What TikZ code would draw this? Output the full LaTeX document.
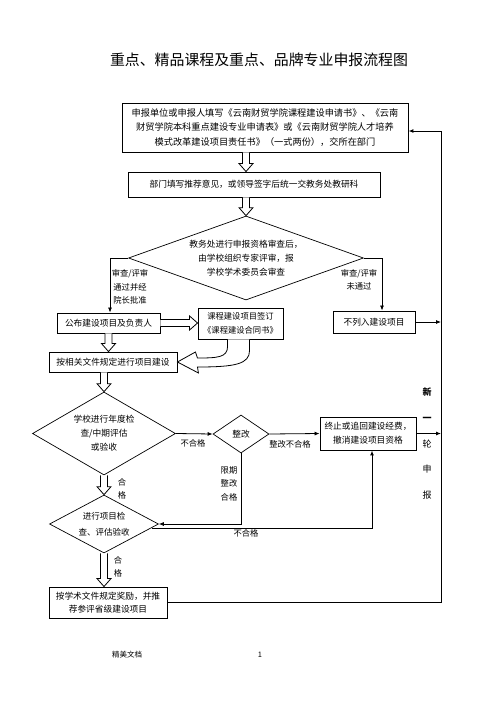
\documentclass[tikz,border=0pt]{standalone}
\usepackage{fontspec}
\setmainfont{Noto Sans CJK SC}
\usetikzlibrary{shapes.geometric,arrows.meta,calc}
\newcommand\myfs[2]{\fontsize{#1pt}{#2pt}\selectfont}
\newcommand\hdown[2]{\draw[harrow] let \p1=#1, \p2=#2 in
  (\x1-3.5pt,\y1) -- (\x1-3.5pt,\y2+8pt) -- (\x1-7pt,\y2+8pt) -- (\x1,\y2)
  -- (\x1+7pt,\y2+8pt) -- (\x1+3.5pt,\y2+8pt) -- (\x1+3.5pt,\y1);}
\newcommand\hright[2]{\draw[harrow] let \p1=#1, \p2=#2 in
  (\x1,\y1+3.5pt) -- (\x2-8pt,\y1+3.5pt) -- (\x2-8pt,\y1+7pt) -- (\x2,\y1)
  -- (\x2-8pt,\y1-7pt) -- (\x2-8pt,\y1-3.5pt) -- (\x1,\y1-3.5pt);}
\begin{document}
\begin{tikzpicture}[x=1pt,y=-1pt,
  box/.style={draw,line width=0.9pt,inner sep=0pt,align=center,font=\myfs{8.7}{14}},
  dia/.style={draw,diamond,line width=0.7pt,inner sep=0pt,align=center,font=\myfs{8.7}{14}},
  lbl/.style={inner sep=0pt,align=center,font=\myfs{8.3}{13.5}},
  arr/.style={-{Latex[length=5pt,width=4pt]},line width=0.8pt},
  ln/.style={line width=0.8pt},
  harrow/.style={draw,fill=white,line width=0.8pt}]
\useasboundingbox[fill=white] (0,0) rectangle (496,702);

\node[font=\myfs{14.9}{18}] (title) at (259,60) {重点、精品课程及重点、品牌专业申报流程图};

\node[box,minimum width=286,minimum height=49,font=\myfs{9.2}{14.5}] (b1) at (265,127.5)
 {申报单位或申报人填写《云南财贸学院课程建设申请书》、《云南\\财贸学院本科重点建设专业申请表》或《云南财贸学院人才培养\\模式改革建设项目责任书》（一式两份），交所在部门};
\node[box,minimum width=252,minimum height=25] (b2) at (254,184.5)
 {部门填写推荐意见，或领导签字后统一交教务处教研科};
\node[dia,minimum width=235,minimum height=84,aspect=2.8] (d1) at (246,258)
 {教务处进行申报资格审查后，\\由学校组织专家评审，报\\学校学术委员会审查};
\node[box,minimum width=103,minimum height=20] (pub) at (108.5,323) {公布建设项目及负责人};
\node[box,minimum width=85,minimum height=31,font=\myfs{8.3}{14}] (con) at (240.5,323.5)
 {课程建设项目签订\\《课程建设合同书》};
\node[box,minimum width=82,minimum height=22] (rej) at (374,322) {不列入建设项目};
\node[box,minimum width=128,minimum height=20] (build) at (113,362) {按相关文件规定进行项目建设};
\node[dia,minimum width=143,minimum height=83,aspect=1.72] (d2) at (104,433.5)
 {学校进行年度检\\查/中期评估\\或验收};
\node[dia,minimum width=56,minimum height=38,aspect=1.47] (d3) at (241,434) {整改};
\node[box,minimum width=96,minimum height=33] (stop) at (368,433.5)
 {终止或追回建设经费，\\撤消建设项目资格};
\node[dia,minimum width=109,minimum height=58,aspect=1.88,font=\myfs{8.5}{16}] (d4) at (104,524)
 {进行项目检\\查、评估验收};
\node[box,minimum width=118,minimum height=31,font=\myfs{8.7}{13}] (final) at (108,602.5)
 {按学术文件规定奖励，并推\\荐参评省级建设项目};

\coordinate (rtop) at (441,131);

% hollow arrows
\hdown{(b1.south -| d1.north)}{(b2.north -| d1.north)}
\hdown{(b2.south -| d1.north)}{(d1.north)}
\hdown{(pub.south)}{(build.north -| pub.south)}
\hright{(pub.east)}{(con.west)}
\draw[harrow] let \p1=(con.south west), \p2=(build.east) in
  (\x1+30pt,\y1) -- (\x1+30pt,\y1-7pt)
  .. controls (\x1+30pt,\y1-18pt) and (\x1+20pt,\y2+4pt) .. (\x2+20pt,\y2+4pt)
  -- (\x2+18pt,\y2+10pt) -- (\x2,\y2) -- (\x2+21pt,\y2-11pt) -- (\x2+20pt,\y2-5pt)
  .. controls (\x2+58pt,\y2-5pt) and (\x1+52pt,\y2-2pt) .. (\x1+52pt,\y1-11pt)
  -- (\x1+52pt,\y1);
\hdown{(build.south -| d2.north)}{(d2.north)}
\hdown{(d2.south)}{(d4.north)}
\hdown{(d4.south)}{(final.north -| d4.south)}

% connectors
\draw[arr] (d1.west) -| ([xshift=1.5pt]pub.north);
\draw[arr] (d1.east) -| ([xshift=8pt]rej.north);
\draw[arr] (rej.east) -- (rej.east -| rtop);
\draw[arr] (d2.east) -- (d3.west);
\draw[arr] (d3.east) -- (stop.west);
\draw[arr] (stop.east) -- (stop.east -| rtop);
\draw[arr] (d3.south) |- (d4.east);
\draw[arr,line width=1pt] ($(d4.east)+(-7,4)$) -| ([xshift=4pt]stop.south);
\draw[arr,line width=1pt] (final.east) -| (rtop) -- (rtop -| b1.east);

% labels
\node[lbl] (l1) at (130,287) {审查/评审\\通过并经\\院长批准};
\node[lbl] (l2) at (359,280) {审查/评审\\未通过};
\node[lbl] (l3) at (193,443.5) {不合格};
\node[lbl] (l4) at (290,444) {整改不合格};
\node[lbl] (l5) at (229,483.5) {限期\\整改\\合格};
\node[lbl] (l6) at (122,489) {合\\格};
\node[lbl] (l7) at (118,567) {合\\格};
\node[lbl] (l8) at (246,533) {不合格};
\node[lbl,font=\myfs{9}{25.75}] (newr) at (427,443.5) {\textbf{新}\\\textbf{一}\\轮\\申\\报};

\node[inner sep=0pt,font=\myfs{7.5}{9}] (ft1) at (127,655) {精美文档};
\node[inner sep=0pt,font=\myfs{7.5}{9}] (ft2) at (260,655) {1};
\end{tikzpicture}
\end{document}
